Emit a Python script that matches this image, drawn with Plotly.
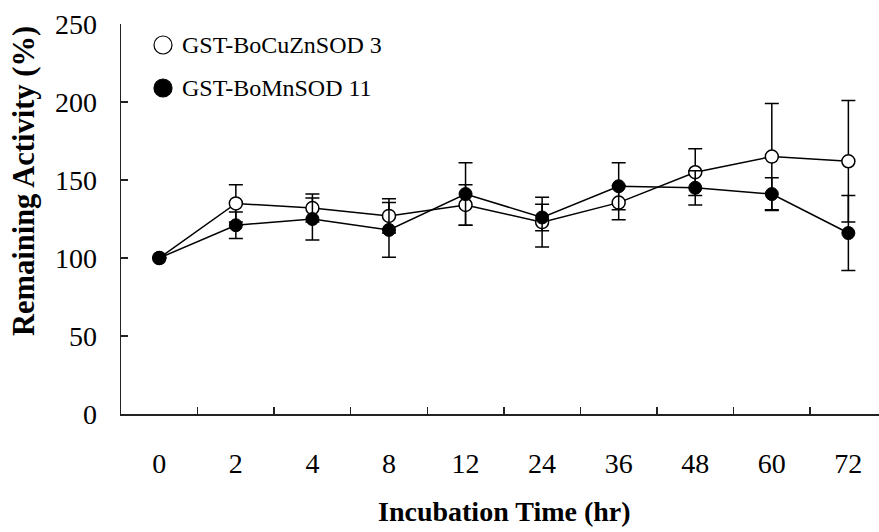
import plotly.graph_objects as go

# ---- data ----
times = ["0", "2", "4", "8", "12", "24", "36", "48", "60", "72"]
cuzn = [100, 135, 132, 127, 134, 123, 135.5, 155, 165, 162]
cuzn_err = [0, 12, 9, 11, 13, 16, 11, 15, 34, 39]
mn = [100, 121, 125, 118, 141, 126, 146, 145, 141, 116]
mn_err = [0, 8.5, 13.5, 17.5, 20, 8.5, 15, 11, 10.5, 24]
y_ticks = [0, 50, 100, 150, 200, 250]
name_cuzn = "GST-BoCuZnSOD 3"
name_mn = "GST-BoMnSOD 11"

W, H = 879, 532
L, R, T, B = 121, 0, 24, 118
FONT = "Liberation Serif, Times New Roman, serif"

fig = go.Figure()
fig.add_trace(go.Scatter(
    x=times, y=cuzn, name=name_cuzn, mode="lines+markers",
    line=dict(color="black", width=1.5),
    marker=dict(symbol="circle", size=13, color="white",
                line=dict(color="black", width=1.5)),
    error_y=dict(type="data", array=cuzn_err, visible=True,
                 color="black", thickness=1.5, width=7),
    showlegend=False,
))
fig.add_trace(go.Scatter(
    x=times, y=mn, name=name_mn, mode="lines+markers",
    line=dict(color="black", width=1.5),
    marker=dict(symbol="circle", size=13, color="black",
                line=dict(color="black", width=1)),
    error_y=dict(type="data", array=mn_err, visible=True,
                 color="black", thickness=1.5, width=7),
    showlegend=False,
))

pw = W - L - R
ph = H - T - B

def px_x(p):
    return (p - L) / pw

def px_y(p):
    return (H - B - p) / ph

# custom legend
shapes = []
annotations = []
for i, (nm, fill) in enumerate([(name_cuzn, "white"), (name_mn, "black")]):
    yc = px_y(45 + 43 * i)
    shapes.append(dict(type="circle", xref="paper", yref="paper",
                       xsizemode="pixel", ysizemode="pixel",
                       xanchor=px_x(163), yanchor=yc,
                       x0=-9, x1=9, y0=-9, y1=9,
                       fillcolor=fill, line=dict(color="black", width=1.2)))
    annotations.append(dict(text=nm, xref="paper", yref="paper",
                            x=px_x(180), y=yc, xanchor="left", yanchor="middle",
                            showarrow=False,
                            font=dict(family=FONT, size=24, color="black")))

annotations.append(dict(text="<b>Incubation Time (hr)</b>", xref="paper", yref="paper",
                        x=px_x(504), y=px_y(511), xanchor="center", yanchor="middle",
                        showarrow=False, font=dict(family=FONT, size=28, color="black")))
annotations.append(dict(text="<b>Remaining Activity (%)</b>", xref="paper", yref="paper",
                        x=px_x(24), y=px_y(181), xanchor="center", yanchor="middle",
                        textangle=-90, showarrow=False,
                        font=dict(family=FONT, size=30.5, color="black")))

fig.update_layout(
    width=W, height=H,
    margin=dict(l=L, r=R, t=T, b=B, pad=0, autoexpand=False),
    paper_bgcolor="white", plot_bgcolor="white",
    shapes=shapes, annotations=annotations,
    font=dict(family=FONT, color="black"),
    hovermode=False,
    xaxis=dict(
        type="category", range=[-0.5, 9.4],
        showline=True, linecolor="#222", linewidth=1.5,
        showgrid=False, zeroline=False, automargin=False,
        ticks="inside", ticklen=7, tickwidth=1.5, tickcolor="#222",
        tickson="boundaries",
        tickfont=dict(family=FONT, size=28, color="black"),
        ticklabelstandoff=24,
    ),
    yaxis=dict(
        range=[0, 250], tickvals=y_ticks,
        showline=True, linecolor="#222", linewidth=1.5,
        showgrid=False, zeroline=False, automargin=False,
        ticks="inside", ticklen=7, tickwidth=1.5, tickcolor="#222",
        tickfont=dict(family=FONT, size=28, color="black"),
        ticklabelstandoff=17,
    ),
)

fig.write_html("out.html",
               config={"displayModeBar": False, "staticPlot": True},
               post_script="document.body.style.margin='0px';document.body.style.overflow='hidden';")
